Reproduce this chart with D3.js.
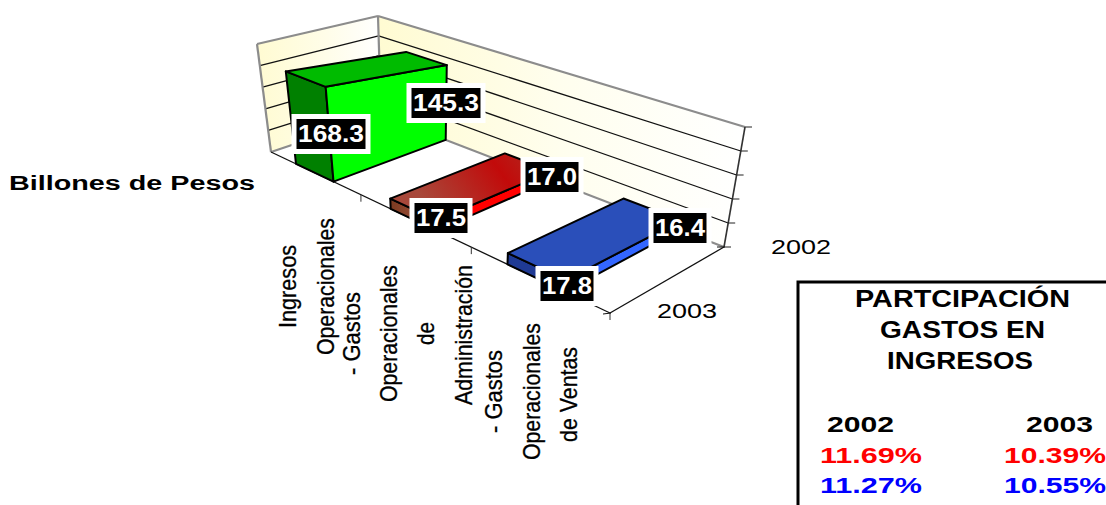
<!DOCTYPE html>
<html>
<head>
<meta charset="utf-8">
<script src="https://cdn.jsdelivr.net/npm/d3@7/dist/d3.min.js"></script>
<style>
  html, body { margin: 0; padding: 0; background: #fff; }
  svg { display: block; }
  text { font-family: "Liberation Sans", Arial, sans-serif; }
</style>
</head>
<body>
<svg id="chart" width="1106" height="505"></svg>
<script>
// Gastos e ingresos operacionales, billones de pesos
const categories = ["Ingresos", "Operacionales", "Ventas"];
const seriesYears = ["2003", "2002"];
const values2003 = [168.3, 17.5, 17.8];
const values2002 = [145.3, 17.0, 16.4];
const valueMax = 200;
const valueTicks = [0, 40, 80, 120, 160, 200];

const shareYears = ["2002", "2003"];
const shareRed = ["11.69%", "10.39%"];
const shareBlue = ["11.27%", "10.55%"];
const boxTitle = ["PARTCIPACIÓN", "GASTOS EN", "INGRESOS"];
const yAxisTitle = "Billones de Pesos";

const categoryLabelLines = [
  "Ingresos", "Operacionales", "- Gastos", "Operacionales", "de",
  "Administración", "- Gastos", "Operacionales", "de Ventas"
];

// ---- layout of the 3D box (floor and ceiling corners on screen) ----
const floorCorners = [[271, 152], [610, 313], [724, 247], [381, 115]];
const ceilCorners  = [[257, 44],  [623, 180], [745, 127], [378, 16]];

// Homography taking the unit square onto a quadrilateral
function quadMap(q) {
  const [[x0, y0], [x1, y1], [x2, y2], [x3, y3]] = q;
  const dx1 = x1 - x2, dx2 = x3 - x2, sx = x0 - x1 + x2 - x3;
  const dy1 = y1 - y2, dy2 = y3 - y2, sy = y0 - y1 + y2 - y3;
  const det = dx1 * dy2 - dx2 * dy1;
  const g = (sx * dy2 - dx2 * sy) / det;
  const h = (dx1 * sy - sx * dy1) / det;
  const a = x1 - x0 + g * x1, b = x3 - x0 + h * x3, c = x0;
  const d = y1 - y0 + g * y1, e = y3 - y0 + h * y3, f = y0;
  return (u, v) => {
    const w = g * u + h * v + 1;
    return [(a * u + b * v + c) / w, (d * u + e * v + f) / w];
  };
}
const floorMap = quadMap(floorCorners);
const ceilMap = quadMap(ceilCorners);

// u along the categories, v from front to back, t from floor to ceiling
function project(u, v, t) {
  const p = floorMap(u, v), q = ceilMap(u, v);
  return [p[0] + (q[0] - p[0]) * t, p[1] + (q[1] - p[1]) * t];
}

const uScale = d3.scaleBand().domain(categories).range([0, 1]).paddingInner(0.58).paddingOuter(0.3);
const vScale = d3.scalePoint().domain(seriesYears).range([0, 1]);
const tScale = d3.scaleLinear().domain([0, valueMax]).range([0, 1]);

const svg = d3.select("#chart");
const defs = svg.append("defs");

function gradient(id, stops, x2 = 1, y2 = 0) {
  const g = defs.append("linearGradient").attr("id", id)
    .attr("x1", 0).attr("y1", 0).attr("x2", x2).attr("y2", y2);
  stops.forEach(([o, c]) => g.append("stop").attr("offset", o).attr("stop-color", c));
}
gradient("wallLeft", [[0, "#fffbd2"], [0.55, "#fffde8"], [1, "#ffffff"]]);
gradient("wallBack", [[0, "#fffbd2"], [0.5, "#fffeee"], [1, "#ffffff"]]);
gradient("redTop", [[0, "#a8483a"], [0.55, "#c20a0a"], [1, "#a8392c"]], 1, -0.3);
gradient("redFront", [[0, "#7a3a20"], [1, "#b05a45"]]);

const line = d3.line();
const poly = pts => line(pts) + "Z";
const drawLine = (a, b, color, width) => svg.append("path")
  .attr("d", line([a, b])).attr("fill", "none").attr("stroke", color).attr("stroke-width", width);

// ---- walls ----
svg.append("path").attr("fill", "url(#wallLeft)")
  .attr("d", poly([project(0, 0, 0), project(0, 1, 0), project(0, 1, 1), project(0, 0, 1)]));
svg.append("path").attr("fill", "url(#wallBack)")
  .attr("d", poly([project(0, 1, 0), project(1, 1, 0), project(1, 1, 1), project(0, 1, 1)]));

// gridlines on both walls
valueTicks.slice(1, -1).forEach(d => {
  const t = tScale(d);
  drawLine(project(0, 0, t), project(0, 1, t), "#111", 1.3);
  drawLine(project(0, 1, t), project(1, 1, t), "#111", 1.3);
});

// wall frame
const frame = "#8c8c8c";
drawLine(project(0, 0, 0), project(0, 0, 1), frame, 2.2);
drawLine(project(0, 1, 0), project(0, 1, 1), frame, 2.2);
drawLine(project(0, 0, 1), project(0, 1, 1), frame, 2.2);
drawLine(project(0, 1, 1), project(1, 1, 1), frame, 2.2);
drawLine(project(0, 0, 0), project(0, 1, 0), frame, 2.2);
drawLine(project(0, 1, 0), project(1, 1, 0), frame, 2.2);

// floor axes and ticks
drawLine(project(0, 0, 0), project(1, 0, 0), "#111", 1.3);
drawLine(project(1, 0, 0), project(1, 1, 0), "#111", 1.3);
drawLine(project(1, 1, 0), project(1, 1, 1), "#333", 1.6);
[1 / 3, 2 / 3, 1].forEach(u => {
  const p = project(u, 0, 0);
  drawLine(p, [p[0], p[1] + 7], "#333", 1);
});
[0, 1].forEach(v => {
  const p = project(1, v, 0);
  drawLine([p[0] - 7, p[1] + (v ? 0 : 1)], [p[0] + 1, p[1]], "#111", 1);
});
valueTicks.forEach(d => {
  const p = project(1, 1, tScale(d));
  drawLine(p, [p[0] + 7, p[1]], "#222", 1);
});

// ---- wedge-shaped bars, front height from 2003 and back height from 2002 ----
const barStyles = [
  { top: "#00bb00", side: "#00ff00", front: "#008000" },
  { top: "url(#redTop)", side: "#ff0000", front: "url(#redFront)" },
  { top: "#2a4fba", side: "#3366ff", front: "#1f3a94" }
];
const faceStroke = { stroke: "#000", width: 2 };

categories.forEach((c, i) => {
  const u0 = uScale(c), u1 = u0 + uScale.bandwidth();
  const vFront = vScale("2003"), vBack = vScale("2002");
  const tFront = tScale(values2003[i]), tBack = tScale(values2002[i]);
  const faces = [
    { fill: barStyles[i].front, pts: [project(u0, vFront, 0), project(u1, vFront, 0), project(u1, vFront, tFront), project(u0, vFront, tFront)] },
    { fill: barStyles[i].side, pts: [project(u1, vFront, 0), project(u1, vBack, 0), project(u1, vBack, tBack), project(u1, vFront, tFront)] },
    { fill: barStyles[i].top, pts: [project(u0, vFront, tFront), project(u1, vFront, tFront), project(u1, vBack, tBack), project(u0, vBack, tBack)] }
  ];
  svg.append("g").selectAll("path").data(faces).join("path")
    .attr("d", d => poly(d.pts))
    .attr("fill", d => d.fill)
    .attr("stroke", faceStroke.stroke)
    .attr("stroke-width", faceStroke.width)
    .attr("stroke-linejoin", "round");
});

// ---- value labels: black plate with white halo ----
const labelCenters2003 = [[331, 134], [441, 218], [567, 286]];
const labelCenters2002 = [[446, 103], [552, 177], [680, 228]];
const plateW = [69, 53, 53];
function valueLabel(value, center, w) {
  const g = svg.append("g").attr("transform", `translate(${center[0]},${center[1]})`);
  g.append("rect").attr("x", -w / 2 - 5).attr("y", -20).attr("width", w + 10).attr("height", 40).attr("fill", "#fff");
  g.append("rect").attr("x", -w / 2).attr("y", -15).attr("width", w).attr("height", 30).attr("fill", "#000");
  g.append("text").attr("text-anchor", "middle").attr("y", 8)
    .attr("fill", "#fff").attr("font-weight", "bold").attr("font-size", 23)
    .attr("textLength", w - 3).attr("lengthAdjust", "spacingAndGlyphs")
    .text(d3.format(".1f")(value));
}
categories.forEach((c, i) => {
  valueLabel(values2003[i], labelCenters2003[i], plateW[i]);
  valueLabel(values2002[i], labelCenters2002[i], plateW[i]);
});

// ---- stretched text helper ----
function fitted(x, y, str, length, size, opts = {}) {
  return svg.append("text").attr("x", x).attr("y", y)
    .attr("font-size", size)
    .attr("font-weight", opts.bold ? "bold" : "normal")
    .attr("fill", opts.fill || "#000")
    .attr("textLength", length).attr("lengthAdjust", "spacingAndGlyphs")
    .text(str);
}

fitted(9, 190, yAxisTitle, 246, 20, { bold: true });

// series names beside the depth axis
fitted(771, 254, seriesYears[1], 60, 21);
fitted(657, 318, seriesYears[0], 60, 21);

// rotated category labels, read bottom to top
const labelBaselineX = [296, 334, 360, 397, 434, 472, 502, 540, 577];
const labelBottomY = [328, 355, 375, 402, 345, 405, 433, 460, 442];
const labelLength = [83, 137, 83, 137, 23, 140, 83, 137, 95];
categoryLabelLines.forEach((s, i) => {
  svg.append("text")
    .attr("transform", `translate(${labelBaselineX[i]},${labelBottomY[i]}) rotate(-90)`)
    .attr("font-size", 24)
    .attr("stroke", "#000").attr("stroke-width", 0.3)
    .attr("textLength", labelLength[i]).attr("lengthAdjust", "spacingAndGlyphs")
    .text(s);
});

// ---- participation box ----
svg.append("path").attr("d", "M1108,282H798V507").attr("fill", "none").attr("stroke", "#000").attr("stroke-width", 3);
const titleX = [855, 880, 887];
const titleY = [307, 338, 369];
const titleW = [215, 165, 146];
boxTitle.forEach((s, i) => fitted(titleX[i], titleY[i], s, titleW[i], 23, { bold: true }));

const colYearX = [827, 1026];
const colPctX = [820, 1004];
shareYears.forEach((y, i) => {
  fitted(colYearX[i], 432, y, 67, 22, { bold: true });
  fitted(colPctX[i], 463, shareRed[i], 102, 22, { bold: true, fill: "#ff0000" });
  fitted(colPctX[i], 493, shareBlue[i], 102, 22, { bold: true, fill: "#0000ff" });
});
</script>
</body>
</html>
